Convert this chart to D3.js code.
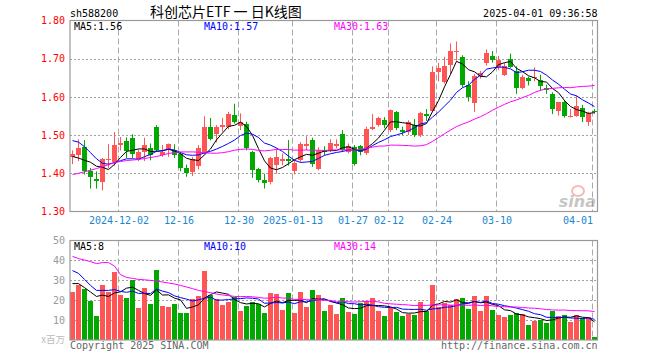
<!DOCTYPE html>
<html><head><meta charset="utf-8">
<script src="https://cdn.jsdelivr.net/npm/d3@7/dist/d3.min.js"></script>
<style>body{margin:0;background:#fff}svg{display:block}</style>
</head><body>
<svg id="c" width="660" height="360"></svg>
<script>
// ---- data ----
const opens  = [1.443,1.447,1.468,1.406,1.384,1.377,1.436,1.430,1.474,1.484,
                1.493,1.437,1.456,1.467,1.521,1.447,1.462,1.460,1.451,1.414,
                1.403,1.418,1.456,1.521,1.502,1.521,1.520,1.553,1.524,1.529,
                1.455,1.410,1.382,1.376,1.421,1.432,1.437,1.405,1.434,1.471,
                1.487,1.412,1.462,1.462,1.471,1.503,1.456,1.469,1.471,1.452,
                1.515,1.526,1.539,1.513,1.560,1.513,1.509,1.526,1.500,1.555,
                1.563,1.664,1.639,1.684,1.719,1.705,1.632,1.584,1.654,1.688,
                1.707,1.678,1.658,1.699,1.667,1.624,1.650,1.651,1.645,1.624,
                1.607,1.563,1.586,1.549,1.551,1.572,1.533,1.563];
const highs  = [1.460,1.489,1.487,1.414,1.405,1.440,1.476,1.508,1.495,1.494,
                1.502,1.462,1.493,1.478,1.526,1.474,1.478,1.476,1.456,1.423,
                1.443,1.474,1.549,1.545,1.526,1.545,1.561,1.582,1.557,1.535,
                1.459,1.414,1.399,1.443,1.465,1.452,1.487,1.434,1.482,1.497,
                1.493,1.468,1.471,1.489,1.489,1.513,1.478,1.474,1.474,1.522,
                1.555,1.548,1.547,1.567,1.563,1.522,1.539,1.542,1.561,1.568,
                1.680,1.689,1.705,1.740,1.745,1.709,1.641,1.660,1.668,1.724,
                1.720,1.707,1.689,1.713,1.680,1.658,1.653,1.677,1.658,1.632,
                1.612,1.587,1.592,1.568,1.603,1.579,1.561,1.568];
const lows   = [1.424,1.432,1.397,1.360,1.360,1.355,1.413,1.420,1.460,1.440,
                1.439,1.432,1.432,1.434,1.456,1.443,1.443,1.440,1.405,1.391,
                1.393,1.410,1.450,1.486,1.481,1.509,1.515,1.530,1.513,1.460,
                1.388,1.376,1.360,1.371,1.399,1.421,1.420,1.397,1.430,1.461,
                1.417,1.408,1.447,1.456,1.465,1.456,1.452,1.420,1.447,1.448,
                1.513,1.522,1.518,1.508,1.513,1.500,1.500,1.495,1.495,1.537,
                1.560,1.641,1.635,1.658,1.695,1.625,1.588,1.561,1.648,1.682,
                1.690,1.670,1.655,1.676,1.608,1.620,1.630,1.641,1.616,1.608,
                1.555,1.551,1.546,1.546,1.548,1.534,1.524,1.556];
const closes = [1.450,1.467,1.406,1.390,1.379,1.437,1.437,1.474,1.480,1.459,
                1.451,1.455,1.474,1.447,1.462,1.456,1.476,1.449,1.414,1.401,
                1.437,1.467,1.522,1.491,1.521,1.526,1.555,1.535,1.533,1.465,
                1.408,1.382,1.375,1.439,1.443,1.437,1.432,1.427,1.476,1.476,
                1.425,1.459,1.456,1.480,1.478,1.462,1.471,1.424,1.456,1.516,
                1.522,1.544,1.526,1.565,1.518,1.509,1.535,1.500,1.557,1.551,
                1.666,1.676,1.682,1.720,1.721,1.632,1.601,1.654,1.662,1.714,
                1.696,1.696,1.680,1.678,1.624,1.653,1.642,1.653,1.629,1.618,
                1.568,1.587,1.551,1.551,1.577,1.548,1.557,1.561];
const volumes = [24.2,27.5,25.5,19.7,12,27.5,24.2,34.2,22.5,21.2,
                 30,16.2,26.2,18,35,17,16.7,18,13.7,13.7,
                 20.5,22,34.7,22.5,20.5,17.5,19,21.7,14.7,17.2,
                 19,18,13.7,23.7,23,15,23.7,13.7,24.2,16.7,
                 25,22.5,14.5,17.5,13,20.8,14.2,13,18.3,19.7,
                 20.8,14.5,12,15.8,14.2,12,13,12.5,19.2,14.7,
                 27.5,16.3,18.7,17.5,20.3,20.8,15.5,22,14.5,22,
                 15,12.5,11.5,12.5,13.3,13,7.5,9.5,10,8.7,
                 14.5,12,12.5,9,12.5,10.8,11.3,1.7];
// moving-average values at the left edge (history before the window)
const ma5Lead  = [1.444,1.440,1.434,1.429];
const ma10Lead = [1.4855,1.4816,1.4697,1.454,1.438,1.426,1.424,1.428,1.433];
const ma30Lead = [1.3966,1.400,1.404,1.4079,1.4124,1.4176,1.4224,1.4282,1.4308,1.4334,
                  1.4347,1.4361,1.4387,1.4413,1.4439,1.4479,1.4518,1.4545,1.456,1.456,
                  1.456,1.4553,1.4539,1.4526,1.4526,1.4539,1.4566,1.4605,1.4624];
const vma5Lead  = [28.2,28.2,26.2,24];
const vma10Lead = [34.7,33.3,30.3,27.3,24.8,24.8,24.8,25.2,24.3];
const vma30Lead = [41.8,40.7,40,39.2,38.2,38.7,38.7,37,32.7,31.3,30.8,30.3,30.1,29.8,29.5,
                   29,28.5,28,27.3,26.5,25.7,24.8,24.2,23.7,23,22.5,22.2,21.8,21.7];
const dateTickIdx = [8,18,28,37,47,53,61,71,87];
const dateTickLabels = ["2024-12-02","12-16","12-30","2025-01-13","01-27","02-12","02-24","03-10","04-01"];
const priceTicks = [1.30,1.40,1.50,1.60,1.70,1.80];
const volTicks = [10,20,30,40,50];
const priceLegend = ["MA5:1.56","MA10:1.57","MA30:1.63"];
const volLegend = ["MA5:8","MA10:10","MA30:14"];

// ---- drawing ----
const svg = d3.select("#c");
const MONO = "'DejaVu Sans Mono', monospace";
const FS = 10;
const RED = "#ff5555", GREEN = "#00a800";
const maColors = ["#000000","#0000ff","#ff00ff"];
const n = closes.length;
const x = d3.scaleLinear().domain([0, n]).range([70, 70 + 6*n]);
const y = d3.scaleLinear().domain([1.30, 1.80]).range([211.5, 20.5]);
const yv = d3.scaleLinear().domain([0, 50]).range([340, 240]);
const L = 70, R = 597.5;

function ma(arr, k, lead) {
  return arr.map((_, i) => i < k - 1 ? lead[i] : d3.mean(arr.slice(i - k + 1, i + 1)));
}
const color = i => closes[i] >= opens[i] ? RED : GREEN;

// header
svg.append("text").attr("x", 70).attr("y", 16.5).attr("font-family", MONO).attr("font-size", FS)
  .attr("fill", "#000").text("sh588200");
svg.append("text").attr("x", 150).attr("y", 17).attr("font-family", "'Noto Sans CJK SC'").attr("font-size", 14)
  .attr("fill", "#000").text("科创芯片ETF 一 日K线图");
svg.append("text").attr("x", R).attr("y", 16.5).attr("text-anchor", "end").attr("font-family", MONO)
  .attr("font-size", FS).attr("fill", "#000").text("2025-04-01 09:36:58");

function panelGrid(g, top, bottom, hVals, scale) {
  g.selectAll("line.h").data(hVals).join("line").attr("class", "h")
    .attr("x1", L).attr("x2", R).attr("y1", d => Math.round(scale(d)) + 0.5).attr("y2", d => Math.round(scale(d)) + 0.5)
    .attr("stroke", "#a0a0a0").attr("stroke-dasharray", "2,2");
  g.selectAll("line.v").data(dateTickIdx).join("line").attr("class", "v")
    .attr("x1", d => x(d) + 0.5).attr("x2", d => x(d) + 0.5).attr("y1", top).attr("y2", bottom)
    .attr("stroke", "#aaaaaa").attr("stroke-dasharray", "6,3");
}

// main panel
const gm = svg.append("g");
panelGrid(gm, 20.5, 211, [1.40, 1.50, 1.60, 1.70], y);

// sina watermark
const wm = svg.append("g").attr("opacity", 0.55);
wm.append("ellipse").attr("cx", 578).attr("cy", 191).attr("rx", 6).attr("ry", 5).attr("fill", "none")
  .attr("stroke", "#f08080").attr("stroke-width", 2);
wm.append("text").attr("x", 596).attr("y", 207).attr("text-anchor", "end").attr("font-family", "'DejaVu Sans'")
  .attr("font-size", 16).attr("font-weight", "bold").attr("font-style", "italic").attr("fill", "#999").text("sina");

const idx = d3.range(n);
gm.selectAll("line.wick").data(idx).join("line").attr("class", "wick")
  .attr("x1", i => x(i) + 2.5).attr("x2", i => x(i) + 2.5)
  .attr("y1", i => y(highs[i])).attr("y2", i => y(lows[i]))
  .attr("stroke", i => color(i)).attr("stroke-width", 1);
gm.selectAll("rect.body").data(idx).join("rect").attr("class", "body")
  .attr("x", i => x(i)).attr("width", i => x(i + 1) - x(i) - 1)
  .attr("y", i => y(Math.max(opens[i], closes[i])))
  .attr("height", i => Math.max(1, Math.abs(y(opens[i]) - y(closes[i]))))
  .attr("fill", i => color(i)).attr("shape-rendering", "crispEdges");

const priceMAs = [ma(closes, 5, ma5Lead), ma(closes, 10, ma10Lead), ma(closes, 30, ma30Lead)];
const lineP = d3.line().x((d, i) => x(i) + 2.5).y(d => y(d));
gm.selectAll("path.ma").data(priceMAs).join("path").attr("class", "ma")
  .attr("d", lineP).attr("fill", "none").attr("stroke", (d, i) => maColors[i]).attr("stroke-width", 1);

gm.append("rect").attr("x", L).attr("y", 20.5).attr("width", R - L).attr("height", 191)
  .attr("fill", "none").attr("stroke", "#999").attr("stroke-width", 1.2);

// price axis
const ay = svg.append("g").attr("transform", `translate(${L},0)`)
  .call(d3.axisLeft(y).tickValues(priceTicks).tickFormat(d3.format(".2f")).tickSize(0).tickPadding(5));
ay.select(".domain").remove();
ay.selectAll("text").attr("fill", "#ff0000").attr("font-family", MONO).attr("font-size", FS);

// date axis
const ax = svg.append("g").attr("transform", "translate(0,211)")
  .call(d3.axisBottom(d3.scaleLinear().domain([0, n]).range([70.5, 70.5 + 6*n]))
    .tickValues(dateTickIdx).tickFormat((d, i) => dateTickLabels[i]).tickSize(0).tickPadding(6));
ax.select(".domain").remove();
ax.selectAll("text").attr("fill", "#1a86d0").attr("font-family", MONO).attr("font-size", FS)
  .attr("text-anchor", (d, i) => i === dateTickIdx.length - 1 ? "end" : "middle");

// legend (price)
const legX = [74, 204, 334];
priceLegend.forEach((t, i) => svg.append("text").attr("x", legX[i]).attr("y", 29.5)
  .attr("font-family", MONO).attr("font-size", FS).attr("fill", maColors[i]).text(t));

// volume panel
const gv = svg.append("g");
panelGrid(gv, 240.5, 340, [10, 20, 30, 40], yv);
gv.selectAll("rect.vol").data(idx).join("rect").attr("class", "vol")
  .attr("x", i => x(i)).attr("width", i => x(i + 1) - x(i) - 1)
  .attr("y", i => yv(volumes[i])).attr("height", i => yv(0) - yv(volumes[i]))
  .attr("fill", i => color(i)).attr("shape-rendering", "crispEdges");
const volMAs = [ma(volumes, 5, vma5Lead), ma(volumes, 10, vma10Lead), ma(volumes, 30, vma30Lead)];
const lineV = d3.line().x((d, i) => x(i) + 2.5).y(d => yv(d));
gv.selectAll("path.vma").data(volMAs).join("path").attr("class", "vma")
  .attr("d", lineV).attr("fill", "none").attr("stroke", (d, i) => maColors[i]).attr("stroke-width", 1);
gv.append("rect").attr("x", L).attr("y", 240.5).attr("width", R - L).attr("height", 99.5)
  .attr("fill", "none").attr("stroke", "#999").attr("stroke-width", 1.2);

const av = svg.append("g").attr("transform", `translate(${L},0)`)
  .call(d3.axisLeft(yv).tickValues(volTicks).tickSize(0).tickPadding(5));
av.select(".domain").remove();
av.selectAll("text").attr("fill", "#999").attr("font-family", MONO).attr("font-size", FS);
svg.append("text").attr("x", 65).attr("y", 343).attr("text-anchor", "end").attr("font-family", "'Noto Sans CJK SC'")
  .attr("font-size", 9.5).attr("fill", "#bbb").text("x百万");

volLegend.forEach((t, i) => svg.append("text").attr("x", legX[i]).attr("y", 250)
  .attr("font-family", MONO).attr("font-size", FS).attr("fill", maColors[i]).text(t));

// footer
svg.append("text").attr("x", 70).attr("y", 349).attr("font-family", MONO).attr("font-size", FS)
  .attr("fill", "#666").text("Copyright 2025 SINA.COM");
svg.append("text").attr("x", R).attr("y", 349).attr("text-anchor", "end").attr("font-family", MONO)
  .attr("font-size", FS).attr("fill", "#666").text("http://finance.sina.com.cn");
</script>
</body></html>
